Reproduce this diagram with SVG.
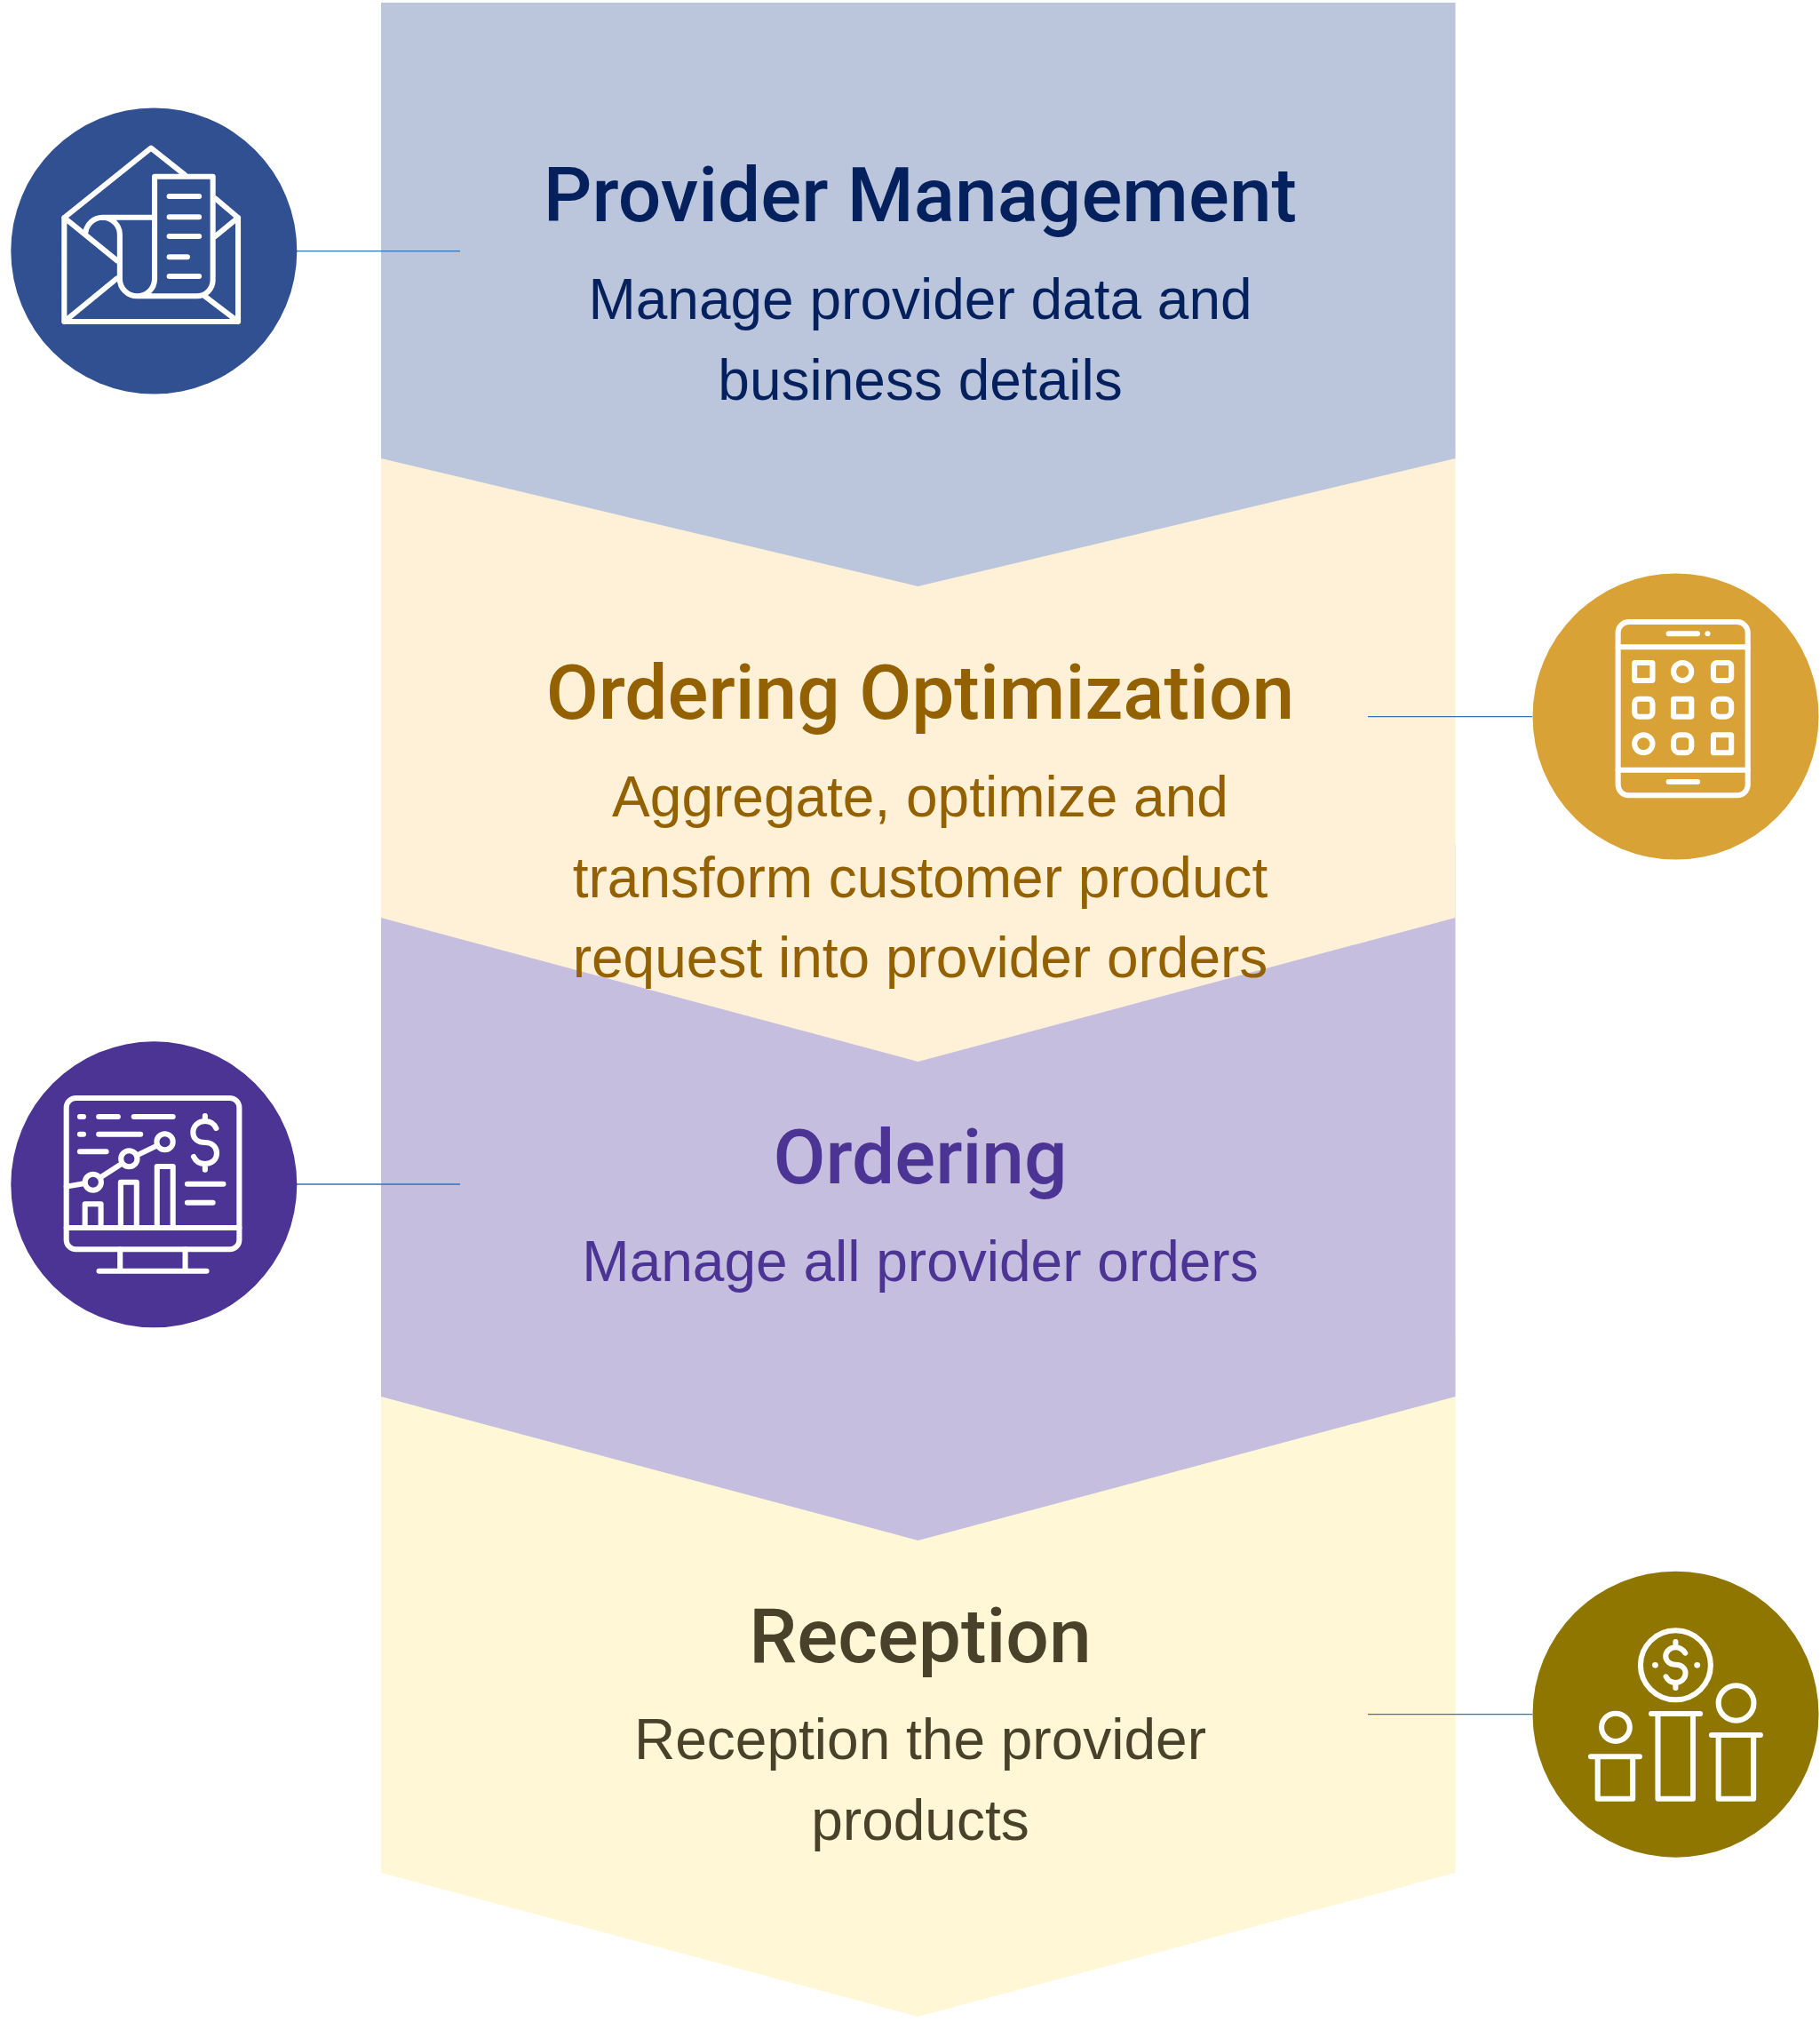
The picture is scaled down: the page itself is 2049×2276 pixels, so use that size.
<svg xmlns="http://www.w3.org/2000/svg" width="2049" height="2276" viewBox="0 0 2049 2276">
<style>
.t{font-family:Roboto,"Liberation Sans",sans-serif;font-weight:500;font-size:85.7px;text-anchor:middle}
.b{font-family:"Liberation Sans",Arial,sans-serif;font-size:64px;text-anchor:middle}
.i{fill:none;stroke:#fff;stroke-width:18;stroke-linecap:round;stroke-linejoin:round}
.d{fill:#fff;stroke:none}
.c{stroke:#2e75b6;stroke-width:1.3;fill:none}
</style>
<rect width="2049" height="2276" fill="#fff"/>
<g id="bands">
<polygon id="band-reception" fill="#fff7d6" points="429,1500 1638.5,1500 1638.5,2108 1033.5,2270 429,2108"/>
<polygon id="band-ordering" fill="#c5bedf" points="429,950 1638.5,950 1638.5,1572 1033.5,1734 429,1572"/>
<polygon id="band-optimization" fill="#fff1d8" points="429,500 1638.5,500 1638.5,1033 1033.5,1195 429,1033"/>
<polygon id="band-provider" fill="#bbc6dd" points="429,3 1638.5,3 1638.5,516 1033.5,660 429,516"/>
</g>
<g id="labels">
<g id="label-provider" fill="#04215e">
<text class="t" x="1036" y="249">Provider Management</text>
<text class="b" x="1036" y="359">Manage provider data and</text>
<text class="b" x="1036" y="450">business details</text>
</g>
<g id="label-optimization" fill="#946101">
<text class="t" x="1036" y="809">Ordering Optimization</text>
<text class="b" x="1036" y="919">Aggregate, optimize and</text>
<text class="b" x="1036" y="1009.5">transform customer product</text>
<text class="b" x="1036" y="1100">request into provider orders</text>
</g>
<g id="label-ordering" fill="#4c3494">
<text class="t" x="1036" y="1332">Ordering</text>
<text class="b" x="1036" y="1441.5">Manage all provider orders</text>
</g>
<g id="label-reception" fill="#4a412a">
<text class="t" x="1036" y="1870.5">Reception</text>
<text class="b" x="1036" y="1980">Reception the provider</text>
<text class="b" x="1036" y="2071">products</text>
</g>
</g>
<g id="connectors">
<line class="c" x1="334" y1="282.7" x2="518" y2="282.7"/>
<line class="c" x1="1540" y1="806.7" x2="1725" y2="806.7"/>
<line class="c" x1="334" y1="1333" x2="518" y2="1333"/>
<line class="c" x1="1540" y1="1929.7" x2="1725" y2="1929.7"/>
</g>
<g id="node-provider">
<circle cx="173.3" cy="282.5" r="161" fill="#305091"/>
<g class="i" transform="translate(0,110) scale(.338,.3333)">
<path d="M214,405V756H793V405M214,405L503,170L615,260M717,340L793,405M214,405L390,550M793,405L717,468M214,756L390,610M793,756L682,670"/>
<path d="M515,404V266H709V616A54,54 0 0 1 655,670H457A58,58 0 0 1 399,612V462A58,58 0 0 0 341,404A58,58 0 0 0 285,455M341,404H515V612A58,58 0 0 1 457,670"/>
<path d="M564,333H663M564,403H663M564,468H663M564,538H624M564,603H663"/>
</g>
</g>
<g id="node-optimization">
<circle cx="1886.5" cy="806.5" r="161" fill="#d8a236"/>
<g class="i" transform="translate(1520,630) scale(.3374,.3333)">
<rect x="894" y="210" width="433" height="586" rx="36"/>
<path d="M894,295H1327M894,710H1327M1063,250H1159M1063,750H1159"/>
<rect x="949" y="348" width="60" height="60" rx="2"/><circle cx="1109" cy="378" r="30"/><rect x="1212" y="348" width="60" height="60" rx="12"/>
<rect x="949" y="470" width="60" height="60" rx="14"/><rect x="1079" y="470" width="60" height="60" rx="2"/><rect x="1212" y="470" width="60" height="60" rx="20"/>
<circle cx="979" cy="622" r="30"/><rect x="1079" y="592" width="60" height="60" rx="20"/><rect x="1212" y="592" width="60" height="60" rx="2"/>
<circle class="d" cx="1193" cy="250" r="9"/>
</g>
</g>
<g id="node-ordering">
<circle cx="173.3" cy="1333.3" r="161" fill="#4c3494"/>
<g class="i" transform="translate(0,1160) scale(.338,.3333)">
<rect x="221" y="228" width="576" height="511" rx="32"/>
<path d="M221,666H797M400,739V812M617,739V812M330,812H688"/>
<path d="M266,291H278M329,291H393M446,291H576M266,350H278M329,350H468M266,409H354M624,518H744M624,581H709"/>
<path d="M720,330C712,312 700,306 683,306C660,306 643,322 643,344C643,366 660,378 683,378C705,378 722,392 722,414C722,436 705,450 683,450C665,450 652,442 645,426M683,288V306M683,450V470"/>
<circle cx="310" cy="512" r="27"/><circle cx="430" cy="433" r="27"/><circle cx="549" cy="376" r="27"/>
<path d="M221,527L283,516M335,496L405,450M455,422L524,388"/>
<path d="M283,666V586H336V666M402,666V512H455V666M523,666V459H576V666"/>
</g>
</g>
<g id="node-reception">
<circle cx="1886.5" cy="1929.7" r="161" fill="#8e7600"/>
<g class="i" transform="translate(1520,1760) scale(.3374,.3333)">
<circle cx="1086" cy="343" r="117"/>
<path d="M1118,302C1110,290 1100,283 1086,283C1068,283 1053,296 1053,313C1053,330 1068,341 1086,341C1104,341 1119,352 1119,370C1119,388 1104,402 1086,402C1072,402 1060,395 1054,382M1086,264V283M1086,402V420"/>
<circle class="d" cx="1018" cy="343" r="10"/><circle class="d" cx="1158" cy="343" r="10"/>
<circle cx="886" cy="553" r="47"/><path d="M803,652H966M826,652V794H943V652"/>
<path d="M1005,507H1168M1027,507V794H1144V507"/>
<circle cx="1288" cy="471" r="59"/><path d="M1206,579H1369M1229,579V794H1346V579"/>
</g>
</g>
</svg>
